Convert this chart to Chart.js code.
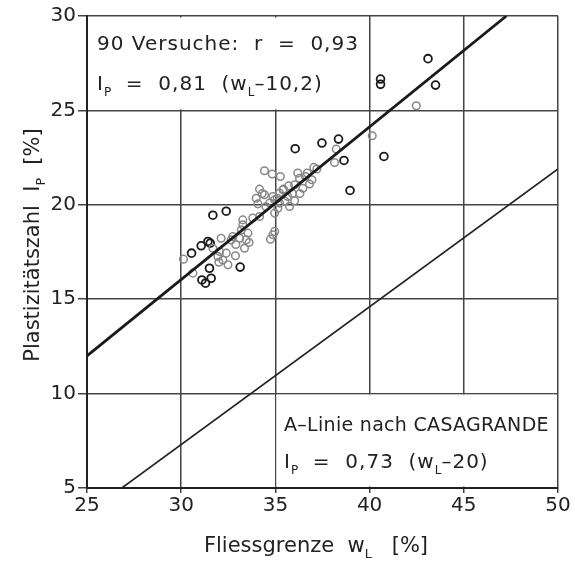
<!DOCTYPE html>
<html>
<head>
<meta charset="utf-8">
<script src="https://cdn.jsdelivr.net/npm/chart.js@4/dist/chart.umd.min.js"></script>
<style>
  html, body { margin: 0; padding: 0; background: #fff; }
</style>
</head>
<body>
<canvas id="chart" width="575" height="562"></canvas>
<script>
// Fliessgrenze (x) and Plastizitaetszahl (y)
const darkWL = [43.1, 43.5, 40.58, 40.58, 40.76, 38.96, 38.64, 38.35, 37.47, 36.05,
                31.68, 32.39, 31.54, 31.42, 31.06, 30.55, 31.5, 31.1, 31.29, 31.59, 33.13];
const darkIP = [27.74, 26.34, 26.66, 26.38, 22.56, 20.76, 22.35, 23.48, 23.27, 22.97,
                19.45, 19.66, 17.97, 18.06, 17.83, 17.44, 16.64, 16.02, 15.85, 16.11, 16.7];

const lightWL = [42.48, 40.14, 38.23, 38.14, 37.04, 36.69, 36.94, 36.81, 36.46, 36.19,
                 36.28, 36.02, 34.42, 34.83, 35.26, 34.16, 34.42, 34.87, 35.4, 35.66,
                 36.02, 35.75, 35.22, 34.96, 34.69, 34.07, 35.13, 34.96, 34.16, 33.27,
                 33.27, 33.19, 33.54, 33.45, 33.1, 32.74, 32.65, 34.96, 34.87, 34.74,
                 33.36, 32.88, 32.39, 32.48, 32.21, 32.04, 31.95, 31.68, 30.12, 30.62,
                 32.12, 32.0, 35.22, 35.43, 33.98, 35.5, 35.1, 34.3, 33.8, 36.6,
                 37.2, 36.3, 35.7, 33.6, 32.9, 34.5, 35.9];
const lightIP = [25.25, 23.66, 22.95, 22.24, 21.98, 21.68, 21.33, 21.1, 20.88, 21.68,
                 21.41, 21.06, 21.8, 21.63, 21.5, 20.83, 20.53, 20.44, 20.8, 20.44,
                 20.21, 19.91, 20.09, 20.27, 20.09, 20.05, 19.82, 19.56, 19.38, 19.2,
                 18.94, 18.67, 18.5, 18.14, 18.23, 18.32, 18.14, 18.59, 18.41, 18.18,
                 17.7, 17.3, 17.44, 16.82, 17.08, 17.53, 17.26, 17.7, 17.12, 16.38,
                 18.23, 16.96, 20.62, 20.83, 20.35, 20.2, 20.35, 20.6, 19.3, 21.5,
                 21.9, 20.6, 21.0, 18.0, 17.9, 19.9, 20.6];

// end points of the two straight lines
const regWL = [25, 47.26];
const regIP = [12.0, 30];
const aWL = [26.85, 50];
const aIP = [5, 21.9];

const xTicks = [25, 30, 35, 40, 45, 50];
const yTicks = [5, 10, 15, 20, 25, 30];

const FONT = "'DejaVu Sans', sans-serif";
const INK = '#222';

function pairs(xs, ys) {
    return xs.map((x, i) => ({ x: x, y: ys[i] }));
}

// draws text with subscripts, parts = [[text, isSub], ...]
function drawRich(ctx, parts, x, y, size, align, spacing) {
    let total = 0;
    parts.forEach(p => {
        ctx.letterSpacing = p[1] ? '0px' : (spacing || 0) + 'px';
        ctx.font = (p[1] ? size * 0.6 : size) + 'px ' + FONT;
        total += ctx.measureText(p[0]).width;
    });
    let cx = align === 'center' ? x - total / 2 : x;
    parts.forEach(p => {
        ctx.letterSpacing = p[1] ? '0px' : (spacing || 0) + 'px';
        ctx.font = (p[1] ? size * 0.6 : size) + 'px ' + FONT;
        ctx.fillText(p[0], cx, p[1] ? y + size * 0.28 : y);
        cx += ctx.measureText(p[0]).width;
    });
    ctx.letterSpacing = '0px';
}

const boxesPlugin = {
    id: 'boxes',
    beforeDatasetsDraw(chart) {
        const ctx = chart.ctx;
        const xs = chart.scales.x, ys = chart.scales.y;
        ctx.save();
        ctx.fillStyle = '#fff';
        // upper left text field
        let l = xs.getPixelForValue(25) + 1.5, r = xs.getPixelForValue(40) - 1;
        let t = ys.getPixelForValue(30) + 1.5, b = ys.getPixelForValue(25) - 1;
        ctx.fillRect(l, t, r - l, b - t);
        // lower right text field
        l = xs.getPixelForValue(35) + 1; r = xs.getPixelForValue(50) - 1.5;
        t = ys.getPixelForValue(10) + 1; b = ys.getPixelForValue(5) - 1.5;
        ctx.fillRect(l, t, r - l, b - t);
        ctx.restore();
    },
    afterDraw(chart) {
        const ctx = chart.ctx;
        ctx.save();
        ctx.fillStyle = INK;
        ctx.textBaseline = 'alphabetic';
        ctx.textAlign = 'left';
        drawRich(ctx, [['90 Versuche:  r  =  0,93', false]], 97, 50, 20, 'left', 1);
        drawRich(ctx, [['I', false], ['P', true], ['  =  0,81  (w', false], ['L', true], ['–10,2)', false]], 97, 90, 20, 'left', 1);
        drawRich(ctx, [['A–Linie nach CASAGRANDE', false]], 284, 431, 19, 'left', 0.3);
        drawRich(ctx, [['I', false], ['P', true], ['  =  0,73  (w', false], ['L', true], ['–20)', false]], 284, 468, 20, 'left', 1);

        // axis titles
        drawRich(ctx, [['Fliessgrenze  w', false], ['L', true], ['   [%]', false]], 316, 552, 21, 'center');
        ctx.translate(39, 245);
        ctx.rotate(-Math.PI / 2);
        drawRich(ctx, [['Plastizitätszahl  I', false], ['P', true], ['  [%]', false]], 0, 0, 21, 'center');
        ctx.restore();
    }
};

const ctx = document.getElementById('chart');
new Chart(ctx, {
    type: 'scatter',
    data: {
        datasets: [
            {
                label: 'Regression',
                data: pairs(regWL, regIP),
                showLine: true,
                borderColor: '#1a1a1a',
                borderWidth: 2.8,
                pointRadius: 0
            },
            {
                label: 'A-Linie',
                data: pairs(aWL, aIP),
                showLine: true,
                borderColor: INK,
                borderWidth: 1.6,
                pointRadius: 0
            },
            {
                label: 'Versuche hell',
                data: pairs(lightWL, lightIP),
                pointRadius: 3.8,
                borderWidth: 1.5,
                borderColor: '#888',
                backgroundColor: 'rgba(0,0,0,0)'
            },
            {
                label: 'Versuche dunkel',
                data: pairs(darkWL, darkIP),
                pointRadius: 3.9,
                borderWidth: 1.8,
                borderColor: '#1a1a1a',
                backgroundColor: 'rgba(0,0,0,0)'
            }
        ]
    },
    options: {
        responsive: false,
        animation: false,
        layout: { padding: { top: 16, right: 17, left: 0, bottom: 0 } },
        plugins: {
            legend: { display: false },
            tooltip: { enabled: false }
        },
        scales: {
            x: {
                type: 'linear',
                min: 25,
                max: 50,
                afterFit: function(scale) { scale.height = 74; },
                afterBuildTicks: function(scale) { scale.ticks = xTicks.map(v => ({ value: v })); },
                grid: { color: '#444', lineWidth: 1.5, tickLength: 5 },
                border: { color: INK, width: 2 },
                ticks: { color: INK, font: { family: FONT, size: 20 }, padding: 1 }
            },
            y: {
                type: 'linear',
                min: 5,
                max: 30,
                afterFit: function(scale) { scale.width = 87; },
                afterBuildTicks: function(scale) { scale.ticks = yTicks.map(v => ({ value: v })); },
                grid: { color: '#444', lineWidth: 1.5, tickLength: 9 },
                border: { color: INK, width: 2 },
                ticks: { color: INK, font: { family: FONT, size: 20 }, padding: 2 }
            }
        }
    },
    plugins: [boxesPlugin]
});
</script>
</body>
</html>
